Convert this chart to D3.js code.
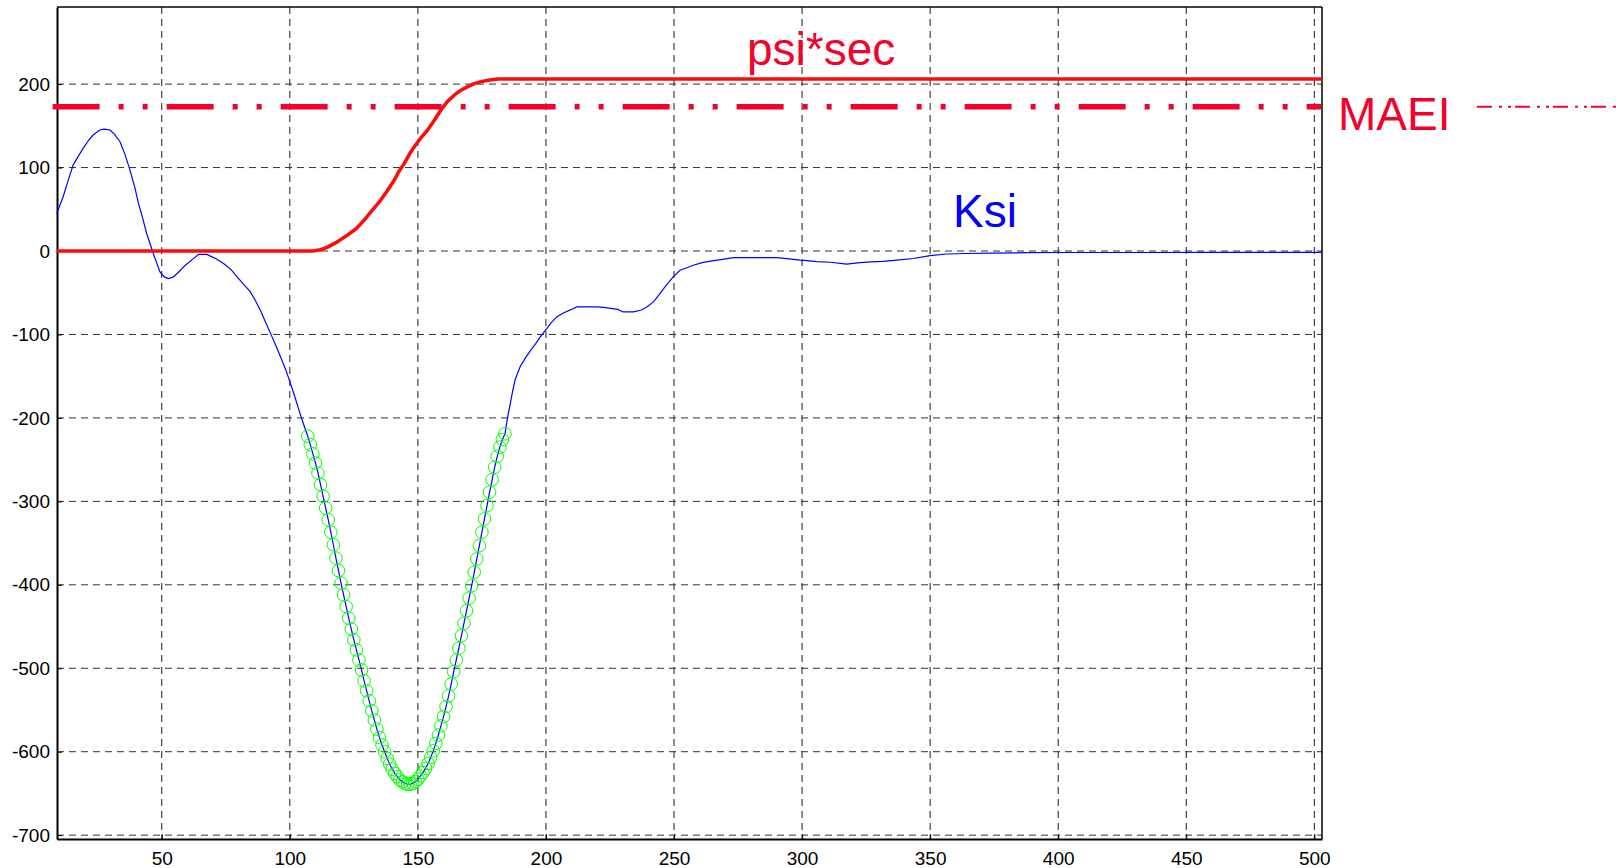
<!DOCTYPE html>
<html>
<head>
<meta charset="utf-8">
<script src="https://cdn.jsdelivr.net/npm/d3@7"></script>
<style>
  html, body { margin: 0; padding: 0; background: #fff; }
  svg { display: block; font-family: Arial, "Liberation Sans", sans-serif; }
</style>
</head>
<body>
<svg id="chart" width="1616" height="868"></svg>
<script>
// Tick values
const xTicks = [50, 100, 150, 200, 250, 300, 350, 400, 450, 500];
const yTicks = [-700, -600, -500, -400, -300, -200, -100, 0, 100, 200];

// Ksi, before the dip
const ksiHeadX = [9, 11.5, 13.5, 15.4, 17.5, 19.3, 21.5, 23.2, 25.8, 27.5, 29.8, 31.5, 33.7, 35.5, 37.6, 39.5,
  40.9, 42.5, 44.1, 46.7, 49.3, 51, 52.6, 54.6, 57, 59.2, 62, 64.4, 67.6, 71, 74.1, 77, 79.4, 82, 84.6,
  86.5, 88.5, 90.5, 92.5, 94.5, 96.4, 98.5, 100.3, 102, 103.6, 105.3];
const ksiHeadY = [45, 65, 85, 103, 114, 123, 133, 139, 145, 146, 145, 140, 131, 117, 97, 76,
  57, 40, 21, -3, -25, -31, -33, -31, -24, -17, -10, -4, -4, -9, -15, -22, -31, -40, -49,
  -59, -71, -85, -99, -113, -127, -143, -159, -175, -191, -207];

// Ksi inside the dip (marked with circles)
const dipX = [107, 108, 109, 110, 111, 112, 113, 114, 115, 116, 117, 118, 119, 120, 121, 122, 123, 124, 125,
  126, 127, 128, 129, 130, 131, 132, 133, 134, 135, 136, 137, 138, 139, 140, 141, 142, 143, 144, 145, 146,
  147, 148, 149, 150, 151, 152, 153, 154, 155, 156, 157, 158, 159, 160, 161, 162, 163, 164, 165, 166, 167,
  168, 169, 170, 171, 172, 173, 174, 175, 176, 177, 178, 179, 180, 181, 182, 183, 184];
const dipY = [-222, -232, -243, -254, -266, -280, -294, -308, -322, -337, -352, -368, -383, -398, -412, -426, -440, -453, -466,
  -478, -490, -502, -515, -527, -539, -551, -562, -573, -583, -592, -600, -608, -615, -621, -626, -630, -634, -636, -638, -639,
  -639, -638, -636, -633, -629, -625, -620, -614, -607, -599, -590, -580, -569, -558, -546, -533, -519, -504, -490, -476, -461,
  -446, -431, -416, -401, -385, -369, -353, -337, -321, -305, -289, -274, -259, -246, -235, -226, -219];

// Ksi, after the dip
const ksiTailX = [185, 186, 187, 188, 190, 192, 194, 196, 198, 200.3, 202, 204.2, 207, 210, 212, 216, 220, 222.4,
  226, 228, 230.2, 234.1, 237, 239.4, 242, 244.5, 247, 249.7, 252.3, 255, 257.5, 261, 265.4, 269, 273.2,
  280, 286, 290.1, 295, 299.2, 302, 305.7, 311, 317.4, 322.6, 327, 331.7, 337, 343.4, 350, 356.5, 364,
  374, 387.7, 400, 430, 460, 503];
const ksiTailY = [-200, -184, -168, -154, -138, -128, -119, -111, -102, -93, -86, -79, -74, -70, -67, -67, -67, -67.5,
  -69, -70, -73, -73, -71, -67, -61, -51, -41, -31, -23, -20, -17, -14, -11.5, -10, -8,
  -8, -8, -8, -9.5, -11, -11.5, -12.8, -13.5, -15.6, -14, -13, -12.5, -11, -9, -5.6, -3.6, -3,
  -2.5, -2, -1.8, -1.8, -1.6, -1.6];

// psi*sec
const psiX = [9, 109, 112, 114.5, 118, 122.5, 126, 129, 132, 135.5, 138, 140.8, 142.5, 144.7, 146.5, 148.6,
  151, 153.8, 156.5, 159, 161.5, 164.3, 167, 169.5, 172, 174.7, 178, 181.3, 185, 503];
const psiY = [0, 0, 1.5, 4.4, 10, 19, 27, 37, 48, 61, 72, 85, 95, 105, 115, 125,
  135, 145, 157, 169, 179, 187, 193, 197, 200.5, 203, 205, 206, 206, 206];

// MAEI level
const maeiX = [7.4, 502.6];
const maeiY = [173, 173];

const svg = d3.select('#chart');
const margin = { top: 7, right: 294, bottom: 29, left: 57 };
const W = 1616, H = 868;

const x = d3.scaleLinear().domain([9.1, 503]).range([margin.left, W - margin.right]);
const y = d3.scaleLinear().domain([-704.6, 292.4]).range([H - margin.bottom, margin.top]);

const red = '#ff0a0a';
const crimson = '#f5002a';

svg.append('rect').attr('width', W).attr('height', H).attr('fill', '#fff');

// Grid lines
svg.append('g')
  .selectAll('line')
  .data(xTicks)
  .enter()
  .append('line')
  .attr('x1', d => x(d)).attr('x2', d => x(d))
  .attr('y1', margin.top).attr('y2', H - margin.bottom)
  .attr('stroke', '#1a1a1a')
  .attr('stroke-width', 1)
  .attr('stroke-dasharray', '7,5');

svg.append('g')
  .selectAll('line')
  .data(yTicks)
  .enter()
  .append('line')
  .attr('x1', margin.left).attr('x2', W - margin.right)
  .attr('y1', d => y(d)).attr('y2', d => y(d))
  .attr('stroke', '#333')
  .attr('stroke-width', 1)
  .attr('stroke-dasharray', '7,5');

// Axes (plain hyphen for negatives)
svg.append('g')
  .attr('transform', `translate(0,${H - margin.bottom})`)
  .call(d3.axisBottom(x).tickValues(xTicks).tickFormat(d => String(d))
    .tickSizeInner(-5).tickSizeOuter(0).tickPadding(13))
  .call(g => g.select('.domain').attr('stroke', '#000').attr('stroke-width', 2))
  .call(g => g.selectAll('text').attr('font-size', 19).attr('fill', '#000'));

svg.append('g')
  .attr('transform', `translate(${margin.left},0)`)
  .call(d3.axisLeft(y).tickValues(yTicks).tickFormat(d => String(d))
    .tickSizeInner(-5).tickSizeOuter(0).tickPadding(7))
  .call(g => g.select('.domain').attr('stroke', '#000').attr('stroke-width', 2))
  .call(g => g.selectAll('text').attr('font-size', 19).attr('fill', '#000'));

// Box top and right
svg.append('line')
  .attr('x1', margin.left).attr('x2', W - margin.right)
  .attr('y1', margin.top).attr('y2', margin.top)
  .attr('stroke', '#000').attr('stroke-width', 1.5);
svg.append('line')
  .attr('x1', W - margin.right).attr('x2', W - margin.right)
  .attr('y1', margin.top).attr('y2', H - margin.bottom)
  .attr('stroke', '#000').attr('stroke-width', 1.5);

const line = d3.line().x(d => x(d[0])).y(d => y(d[1]));

// Ksi curve
const ksiPts = [
  ...ksiHeadX.map((v, i) => [v, ksiHeadY[i]]),
  ...dipX.map((v, i) => [v, dipY[i]]),
  ...ksiTailX.map((v, i) => [v, ksiTailY[i]])
];
svg.append('path')
  .datum(ksiPts)
  .attr('d', line)
  .attr('fill', 'none')
  .attr('stroke', '#0000ff')
  .attr('stroke-width', 1.2);

// Circles on the dip
svg.append('g')
  .selectAll('circle')
  .data(dipX.map((v, i) => [v, dipY[i]]))
  .enter()
  .append('circle')
  .attr('cx', d => x(d[0]))
  .attr('cy', d => y(d[1]))
  .attr('r', 6.3)
  .attr('fill', 'none')
  .attr('stroke', '#00ff00')
  .attr('stroke-width', 1);

// psi*sec curve
svg.append('path')
  .datum(psiX.map((v, i) => [v, psiY[i]]))
  .attr('d', line)
  .attr('fill', 'none')
  .attr('stroke', red)
  .attr('stroke-width', 3.5)
  .attr('stroke-linejoin', 'round');

// MAEI line
svg.append('path')
  .datum(maeiX.map((v, i) => [v, maeiY[i]]))
  .attr('d', line)
  .attr('fill', 'none')
  .attr('stroke', crimson)
  .attr('stroke-width', 5.5)
  .attr('stroke-dasharray', '47,19,5,19,5,19');

// Legend sample line for MAEI
svg.append('line')
  .attr('x1', 1477).attr('x2', 1616)
  .attr('y1', y(maeiY[0])).attr('y2', y(maeiY[0]))
  .attr('stroke', crimson)
  .attr('stroke-width', 2)
  .attr('stroke-dasharray', '15,7,3,6,3,4');

// Labels
svg.append('text')
  .attr('x', 747).attr('y', 65)
  .attr('font-size', 46)
  .attr('fill', crimson)
  .text('psi*sec');

svg.append('text')
  .attr('x', 953).attr('y', 227)
  .attr('font-size', 46)
  .attr('fill', '#0000ff')
  .text('Ksi');

svg.append('text')
  .attr('x', 1338).attr('y', 130)
  .attr('font-size', 46)
  .attr('fill', crimson)
  .text('MAEI');
</script>
</body>
</html>
